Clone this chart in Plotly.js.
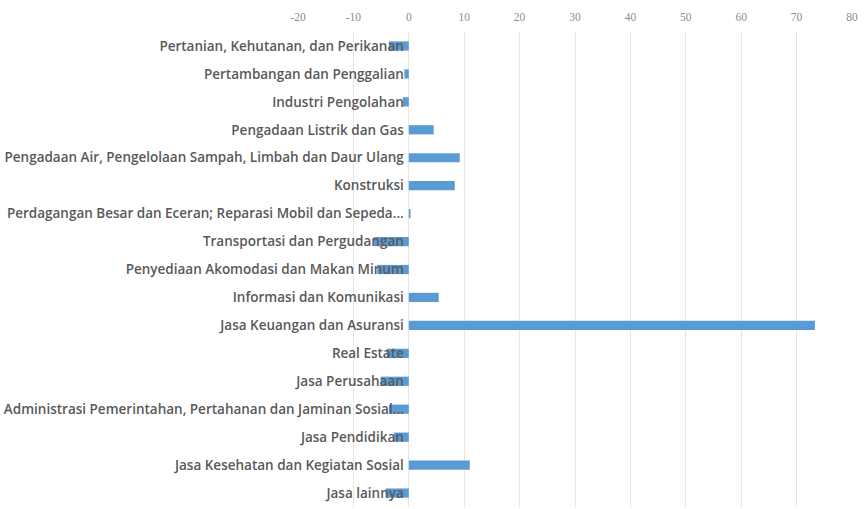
<!DOCTYPE html>
<html>
<head>
<meta charset="utf-8">
<script src="https://cdn.plot.ly/plotly-3.0.1.min.js"></script>
<style>html,body{margin:0;padding:0;background:#fff;}#chart{width:867px;height:509px;}</style>
</head>
<body>
<div id="chart"></div>
<script>
const categories = [
  "Pertanian, Kehutanan, dan Perikanan",
  "Pertambangan dan Penggalian",
  "Industri Pengolahan",
  "Pengadaan Listrik dan Gas",
  "Pengadaan Air, Pengelolaan Sampah, Limbah dan Daur Ulang",
  "Konstruksi",
  "Perdagangan Besar dan Eceran; Reparasi Mobil dan Sepeda...",
  "Transportasi dan Pergudangan",
  "Penyediaan Akomodasi dan Makan Minum",
  "Informasi dan Komunikasi",
  "Jasa Keuangan dan Asuransi",
  "Real Estate",
  "Jasa Perusahaan",
  "Administrasi Pemerintahan, Pertahanan dan Jaminan Sosial...",
  "Jasa Pendidikan",
  "Jasa Kesehatan dan Kegiatan Sosial",
  "Jasa lainnya"
];
const values = [-3.6, -0.8, -1.1, 4.5, 9.2, 8.3, 0.3, -6.3, -5.7, 5.4, 73.3, -4.0, -5.1, -3.6, -2.7, 11.0, -4.2];
const tickVals = [-20, -10, 0, 10, 20, 30, 40, 50, 60, 70, 80];

const trace = {
  type: 'bar',
  orientation: 'h',
  y: categories,
  x: values,
  marker: {color: '#5B9BD5'},
  hoverinfo: 'x+y'
};

const layout = {
  width: 867, height: 509,
  margin: {l: 298, r: 15, t: 32, b: 2},
  paper_bgcolor: '#ffffff',
  plot_bgcolor: '#ffffff',
  bargap: 0.67,
  showlegend: false,
  xaxis: {
    side: 'top',
    range: [-20, 80],
    tickvals: tickVals,
    ticktext: tickVals.map(String),
    showgrid: true,
    gridcolor: '#e6e6e6',
    gridwidth: 1,
    zeroline: true,
    zerolinecolor: '#e6e6e6',
    zerolinewidth: 1,
    showline: false,
    ticks: '',
    ticklabelstandoff: 8,
    tickfont: {family: 'Liberation Serif, serif', size: 11.5, color: '#8c8c8c'},
    fixedrange: true
  },
  yaxis: {
    type: 'category',
    autorange: 'reversed',
    anchor: 'free',
    position: 0.2,
    showgrid: false,
    zeroline: false,
    showline: false,
    ticks: '',
    ticklabelstandoff: 5,
    tickfont: {family: 'Open Sans, sans-serif', size: 13.5, color: '#595959', weight: 600},
    fixedrange: true
  }
};

Plotly.newPlot('chart', [trace], layout, {displayModeBar: false, staticPlot: true});
</script>
</body>
</html>
